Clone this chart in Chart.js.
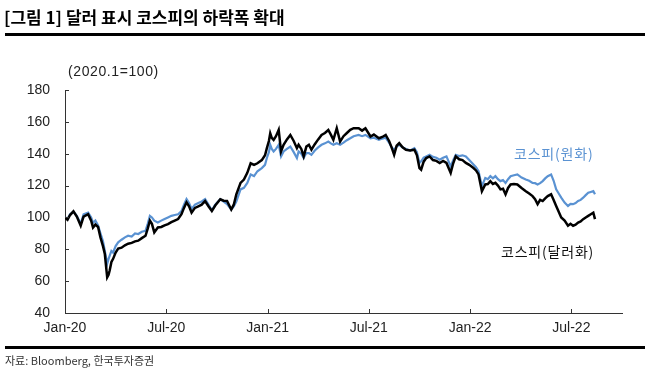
<!DOCTYPE html>
<html>
<head>
<meta charset="utf-8">
<script src="https://cdn.jsdelivr.net/npm/chart.js@4"></script>
<style>
  html, body { margin: 0; padding: 0; background: #fff; }
  body { width: 650px; height: 374px; position: relative; overflow: hidden;
         font-family: "Liberation Sans", "Noto Sans CJK KR", sans-serif; color: #222; }
  #chart { position: absolute; left: 0; top: 0; }
  .txt { position: absolute; white-space: nowrap; }
  .title { left: 4px; top: 4px; font: bold 17px "Noto Sans CJK KR", sans-serif; color: #000; }
  .rule { position: absolute; left: 5px; width: 640px; background: #000; }
  .unit { left: 68px; top: 63px; font-size: 14px; letter-spacing: 0.6px; }
  .lbl { font-family: "Noto Sans CJK KR", sans-serif; font-size: 14px; letter-spacing: 0.8px; }
  .src { left: 5px; top: 352px; font: 11px "Noto Sans CJK KR", "Liberation Sans", sans-serif; color: #333; }
</style>
</head>
<body>
<canvas id="chart" width="650" height="374"></canvas>
<div class="txt title">[그림 1] 달러 표시 코스피의 하락폭 확대</div>
<div class="rule" style="top:33px;height:3px"></div>
<div class="txt unit">(2020.1=100)</div>
<div class="txt lbl" style="left:514px;top:143px;color:#5a92d2">코스피(원화)</div>
<div class="txt lbl" style="left:501px;top:241px;color:#111">코스피(달러화)</div>
<div class="rule" style="top:346px;height:3px"></div>
<div class="txt src">자료: Bloomberg, 한국투자증권</div>
<script>
// months since Jan-2020
const months = [0, 0.15, 0.3, 0.5, 0.7, 0.93, 1.1, 1.37, 1.55, 1.66, 1.8, 1.96, 2.1, 2.25, 2.36, 2.5, 2.58, 2.65, 2.75, 2.85,
  3.0, 3.15, 3.35, 3.55, 3.74, 3.95, 4.15, 4.34, 4.55, 4.77, 4.9, 5.03, 5.15, 5.29, 5.5, 5.7, 5.9, 6.1, 6.3, 6.5,
  6.7, 6.9, 7.05, 7.2, 7.35, 7.5, 7.7, 7.9, 8.1, 8.3, 8.5, 8.7, 8.9, 9.2, 9.4, 9.6, 9.85, 10.0, 10.15, 10.4,
  10.6, 10.8, 11.0, 11.2, 11.4, 11.66, 11.85, 11.96, 12.08, 12.16, 12.25, 12.36, 12.5, 12.66, 12.8, 12.95, 13.15, 13.35, 13.55, 13.74,
  13.84, 14.0, 14.14, 14.3, 14.45, 14.6, 14.8, 15.0, 15.2, 15.4, 15.6, 15.75, 15.9, 16.1, 16.3, 16.5, 16.7, 16.9, 17.1, 17.4,
  17.6, 17.8, 18.1, 18.3, 18.6, 18.8, 19.0, 19.2, 19.35, 19.5, 19.65, 19.8, 20.0, 20.2, 20.45, 20.7, 20.85, 21.0, 21.1, 21.25,
  21.4, 21.6, 21.8, 22.0, 22.2, 22.4, 22.6, 22.85, 23.0, 23.15, 23.35, 23.55, 23.75, 23.95, 24.2, 24.35, 24.5, 24.7, 24.9, 25.05,
  25.2, 25.35, 25.5, 25.65, 25.8, 25.95, 26.1, 26.25, 26.4, 26.6, 26.8, 27.05, 27.3, 27.5, 27.7, 27.85, 28.0, 28.15, 28.3, 28.45,
  28.6, 28.8, 28.95, 29.1, 29.25, 29.4, 29.6, 29.8, 29.95, 30.1, 30.25, 30.4, 30.55, 30.7, 30.85, 31.0, 31.15, 31.3, 31.4];

// 코스피(원화)
const kospiKrw = [100, 99, 102, 103.5, 101, 96, 102, 103, 100, 96.6, 98, 95, 90, 85, 79, 71, 74, 76, 79, 78,
  82, 84.4, 86, 87.5, 88.5, 88, 90, 89.6, 91, 91.6, 96, 101, 100, 98, 96.8, 98, 99, 100, 101, 101.5,
  102, 104, 108, 111.5, 109, 105.3, 108, 109, 110, 111.5, 108, 104.5, 108, 111.5, 110, 108.4, 105, 107, 110, 117.6,
  118.6, 121.7, 127, 126, 129, 131, 133, 137.3, 141, 145.6, 143, 141.4, 143, 145.6, 138.3, 141.4, 143, 144.5, 141, 137.3,
  141.4, 140, 137.3, 140.4, 140.4, 139.3, 142, 144, 145.6, 146.5, 147.6, 146.5, 145.6, 146.6, 145.6, 147, 148.5, 149.7, 151, 151.8,
  151, 151.8, 149.7, 150, 148.7, 149.5, 150, 147, 144, 142.5, 144.5, 145.6, 144, 143, 142, 143.5, 141, 134.2, 135.2, 137.5,
  138.3, 139.3, 138, 137.5, 136.2, 137.5, 138.3, 132, 136, 139.3, 138.5, 139, 138.3, 136, 133.2, 131.5, 129, 119.6, 124.8, 124,
  125.9, 124.5, 125.9, 124, 122.8, 123.5, 121.7, 124, 125.9, 126.5, 127, 125, 123.8, 123, 121.7, 121.5, 120.7, 121.5, 122.8, 124.5,
  125.9, 127, 123, 117.6, 115, 112.4, 109.3, 107.2, 108.5, 108.3, 109, 110.3, 111, 112.4, 114, 115.5, 116, 116.5, 114.5];

// 코스피(달러화)
const kospiUsd = [100, 98.5, 101.5, 103.8, 100.5, 94.8, 100.5, 102, 98, 93.7, 95.5, 94, 87.5, 82, 77, 62.4, 64, 66.8, 72, 74,
  78, 80.4, 81, 82.5, 83.5, 84, 85, 85.4, 87, 88.5, 93, 98, 96, 90.6, 93.7, 94, 95, 95.8, 97, 98,
  99, 102, 106, 109.5, 107, 103, 106, 107, 108, 110.3, 107, 104, 107.5, 111.4, 110.5, 110.3, 105, 108, 114.5, 121.7,
  123.8, 128, 134, 133, 134, 136, 139, 143.5, 148, 152.8, 150, 148.7, 151, 155, 141.4, 145.6, 149, 151.8, 148, 143.5,
  145.6, 143, 138.3, 144.5, 145.6, 142.5, 146, 149, 151.8, 153, 154.9, 152, 148.7, 156, 147.6, 151, 153, 155, 156, 156,
  154.5, 156, 150.8, 152, 149.7, 150.5, 151.8, 148, 144, 139.3, 145, 146.6, 144, 142.5, 142, 142.5, 139, 131, 130, 135,
  137.3, 138.3, 136, 135.5, 134.2, 135.5, 134.2, 128, 134, 138.3, 136.5, 136, 134.2, 133, 131, 129.5, 127, 116.5, 120.7, 121,
  122.8, 121, 121.7, 120, 117.6, 118, 114.5, 118.5, 120.7, 121, 120.7, 118.5, 116.5, 115, 113.4, 111.5, 108.3, 111, 110.3, 112,
  113.4, 114.5, 111, 107.2, 103.5, 100, 98, 94.8, 96, 94.8, 95.5, 96.8, 97.5, 98.9, 100, 101, 102, 103, 98.9];

const xTickLabels = ['Jan-20', 'Jul-20', 'Jan-21', 'Jul-21', 'Jan-22', 'Jul-22'];
const yTicks = [40, 60, 80, 100, 120, 140, 160, 180];

const tickFont = { family: '"Liberation Sans", Arial, sans-serif', size: 14 };

// short tick marks drawn inside the plot, like the original
const innerTicks = {
  id: 'innerTicks',
  afterDraw(chart) {
    const ctx = chart.ctx, x = chart.scales.x, y = chart.scales.y;
    ctx.save();
    ctx.strokeStyle = '#333';
    ctx.lineWidth = 1;
    ctx.beginPath();
    x.ticks.forEach(t => {
      const px = Math.round(x.getPixelForValue(t.value)) + 0.5;
      ctx.moveTo(px, y.bottom); ctx.lineTo(px, y.bottom - 4);
    });
    y.ticks.forEach(t => {
      const py = Math.round(y.getPixelForValue(t.value)) + 0.5;
      ctx.moveTo(x.left, py); ctx.lineTo(x.left + 4, py);
    });
    ctx.stroke();
    ctx.restore();
  }
};

new Chart(document.getElementById('chart').getContext('2d'), {
  type: 'line',
  data: {
    datasets: [{
      label: '코스피(달러화)',
      data: months.map((m, i) => ({ x: m, y: kospiUsd[i] })),
      borderColor: '#000',
      borderWidth: 2.5,
      pointRadius: 0,
      tension: 0
    }, {
      label: '코스피(원화)',
      data: months.map((m, i) => ({ x: m, y: kospiKrw[i] })),
      borderColor: '#5a92d2',
      borderWidth: 2.2,
      pointRadius: 0,
      tension: 0
    }]
  },
  options: {
    responsive: false,
    animation: false,
    layout: { padding: { left: 0, right: 28, top: 90, bottom: 0 } },
    plugins: { legend: { display: false }, tooltip: { enabled: false } },
    scales: {
      x: {
        type: 'linear', min: 0, max: 33,
        grid: { display: false, drawTicks: false },
        border: { display: true, color: '#333', width: 1 },
        afterBuildTicks: s => { s.ticks = [0, 6, 12, 18, 24, 30].map(v => ({ value: v })); },
        afterFit: s => { s.height = 61; },
        ticks: {
          padding: 7, color: '#222', font: tickFont, maxRotation: 0,
          callback: v => xTickLabels[v / 6]
        }
      },
      y: {
        min: 40, max: 180,
        grid: { display: false, drawTicks: false },
        border: { display: true, color: '#333', width: 1 },
        afterBuildTicks: s => { s.ticks = yTicks.map(v => ({ value: v })); },
        afterFit: s => { s.width = 65; },
        ticks: { padding: 15, color: '#222', font: tickFont }
      }
    }
  },
  plugins: [innerTicks]
});
</script>
</body>
</html>
